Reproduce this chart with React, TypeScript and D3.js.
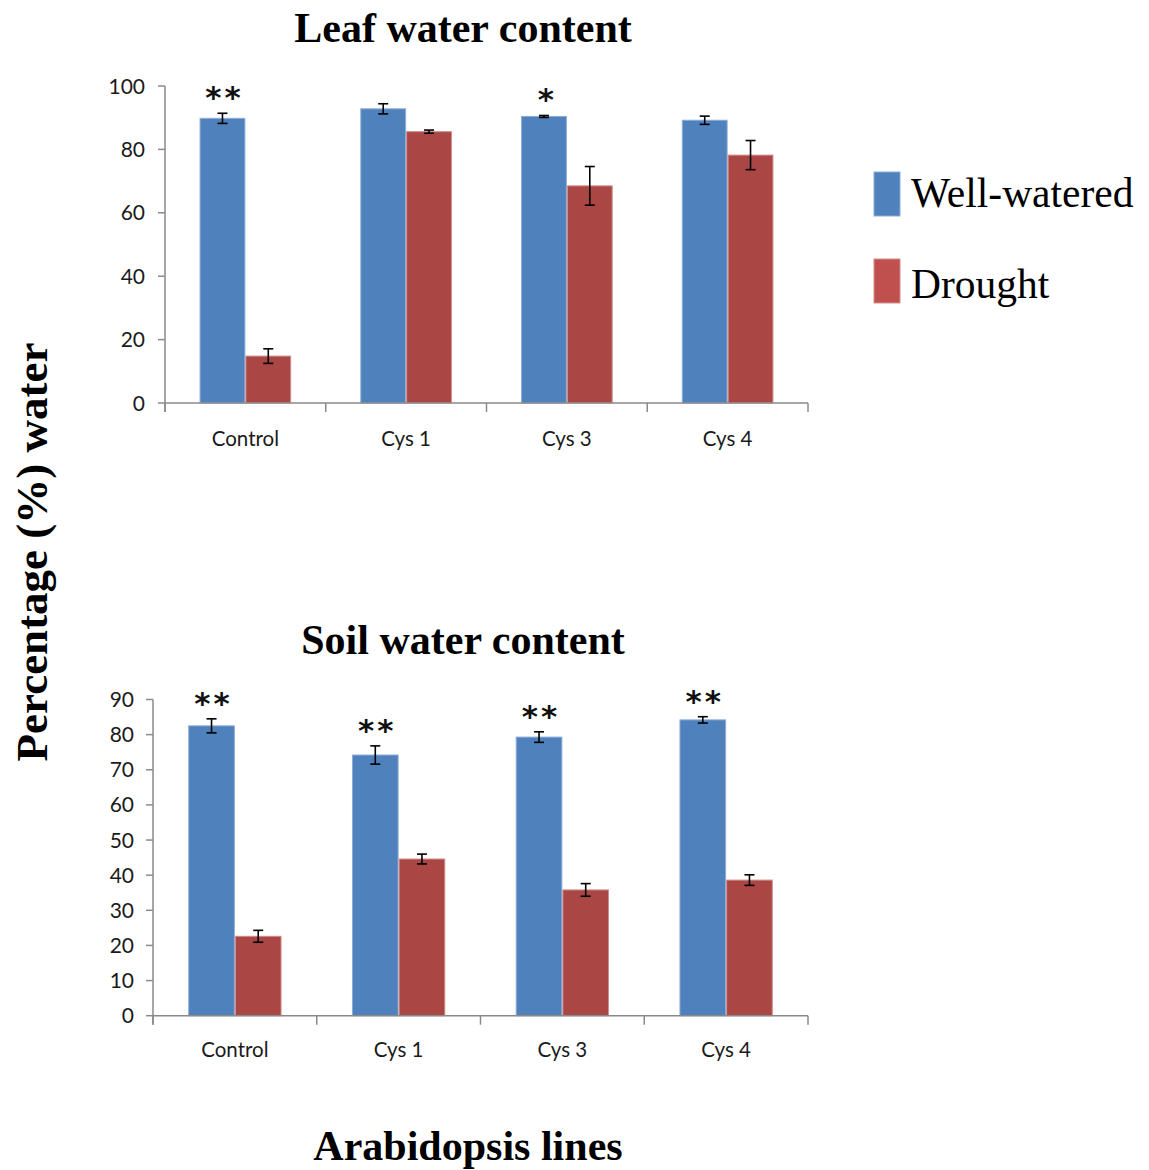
import React from "react";
import * as d3 from "d3";

const categories = ["Control", "Cys 1", "Cys 3", "Cys 4"];
const seriesNames = ["Well-watered", "Drought"];

const leafWell = [89.8, 92.8, 90.4, 89.2];
const leafWellErr = [1.6, 1.6, 0.3, 1.3];
const leafDrought = [14.8, 85.6, 68.5, 78.2];
const leafDroughtErr = [2.3, 0.5, 6.1, 4.6];
const leafStars = ["**", "", "*", ""];
const leafTicks = [0, 20, 40, 60, 80, 100];

const soilWell = [82.5, 74.2, 79.3, 84.2];
const soilWellErr = [2.0, 2.6, 1.5, 0.9];
const soilDrought = [22.6, 44.6, 35.8, 38.6];
const soilDroughtErr = [1.7, 1.4, 1.8, 1.5];
const soilStars = ["**", "**", "**", "**"];
const soilTicks = [0, 10, 20, 30, 40, 50, 60, 70, 80, 90];

const BLUE = "#4F81BD";
const BLUE_EDGE = "#8cacd6";
const RED = "#AA4644";
const RED_EDGE = "#d18e8c";
const LEG_RED = "#C0504D";
const AXIS = "#8a8a8a";
const SANS = "Lato, 'Open Sans', sans-serif";
const SERIF = "'Liberation Serif', 'Times New Roman', serif";

type PanelProps = {
  x0: number; x1: number; yTop: number; yBot: number; max: number;
  ticks: number[]; well: number[]; wellErr: number[]; dr: number[]; drErr: number[];
  stars: string[]; labelGap: number; catBaseline: number;
};

function Panel(p: PanelProps) {
  const x = d3.scaleBand<string>().domain(categories).range([p.x0, p.x1]).padding(0);
  const y = d3.scaleLinear().domain([0, p.max]).range([p.yBot, p.yTop]);
  const bw = x.bandwidth() * 0.285;
  const bars: React.ReactNode[] = [];
  categories.forEach((c, i) => {
    const cx = (x(c) as number) + x.bandwidth() / 2;
    const groups = [
      { v: p.well[i], e: p.wellErr[i], fill: BLUE, edge: BLUE_EDGE, left: cx - bw },
      { v: p.dr[i], e: p.drErr[i], fill: RED, edge: RED_EDGE, left: cx },
    ];
    groups.forEach((g, j) => {
      bars.push(
        <rect key={`b${i}${j}`} x={g.left + 0.5} y={y(g.v)} width={bw - 1} height={p.yBot - y(g.v)}
          fill={g.fill} stroke={g.edge} strokeWidth={1} />
      );
    });
    groups.forEach((g, j) => {
      const ex = g.left + bw / 2;
      const t = y(g.v + g.e), b = y(g.v - g.e);
      bars.push(
        <g key={`e${i}${j}`} stroke="#000" strokeWidth={1.6}>
          <line x1={ex} x2={ex} y1={t} y2={b} />
          <line x1={ex - 5} x2={ex + 5} y1={t} y2={t} />
          <line x1={ex - 5} x2={ex + 5} y1={b} y2={b} />
        </g>
      );
    });
    if (p.stars[i]) {
      const top = y(p.well[i] + p.wellErr[i]);
      bars.push(
        <text key={`s${i}`} x={cx - bw / 2 + 2} y={top - 5} textAnchor="middle"
          fontFamily="'DejaVu Sans', sans-serif" fontWeight="bold" fontSize={31}
          letterSpacing={p.stars[i].length > 1 ? 3 : 0}
          fill="#111">{p.stars[i]}</text>
      );
    }
  });
  const bounds = [...categories.map((c) => x(c) as number), p.x1];
  return (
    <g>
      {bars}
      <line x1={p.x0} x2={p.x0} y1={p.yTop} y2={p.yBot + 9} stroke={AXIS} strokeWidth={1.5} />
      <line x1={p.x0} x2={p.x1} y1={p.yBot} y2={p.yBot} stroke={AXIS} strokeWidth={1.5} />
      {p.ticks.map((t) => (
        <g key={t}>
          <line x1={p.x0 - 7} x2={p.x0} y1={y(t)} y2={y(t)} stroke={AXIS} strokeWidth={1.5} />
          <text x={p.x0 - p.labelGap} y={y(t)} dy="0.36em" textAnchor="end" fontFamily={SANS}
            fontSize={21} fill="#1a1a1a">{t}</text>
        </g>
      ))}
      {bounds.map((bx, i) => (
        <line key={i} x1={bx} x2={bx} y1={p.yBot} y2={p.yBot + 9} stroke={AXIS} strokeWidth={1.5} />
      ))}
      {categories.map((c) => (
        <text key={c} x={(x(c) as number) + x.bandwidth() / 2} y={p.catBaseline} textAnchor="middle"
          fontFamily={SANS} fontSize={20.5} fill="#1a1a1a">{c}</text>
      ))}
    </g>
  );
}

export default function App() {
  return (
    <svg width={1149} height={1170} style={{ position: "absolute", left: 0, top: 0, background: "#fff" }}>
      <rect width={1149} height={1170} fill="#fff" />
      <text x={463} y={42} textAnchor="middle" fontFamily={SERIF} fontWeight="bold" fontSize={42}>Leaf water content</text>
      <text x={463} y={654} textAnchor="middle" fontFamily={SERIF} fontWeight="bold" fontSize={42}>Soil water content</text>
      <text x={468} y={1160} textAnchor="middle" fontFamily={SERIF} fontWeight="bold" fontSize={42}>Arabidopsis lines</text>
      <text transform="translate(47,552) rotate(-90)" textAnchor="middle" fontFamily={SERIF} fontWeight="bold"
        fontSize={45}>Percentage (%) water</text>
      <Panel x0={165} x1={808} yTop={86} yBot={403} max={100} ticks={leafTicks}
        well={leafWell} wellErr={leafWellErr} dr={leafDrought} drErr={leafDroughtErr}
        stars={leafStars} labelGap={20} catBaseline={446} />
      <Panel x0={153} x1={808} yTop={699.5} yBot={1015.7} max={90} ticks={soilTicks}
        well={soilWell} wellErr={soilWellErr} dr={soilDrought} drErr={soilDroughtErr}
        stars={soilStars} labelGap={19} catBaseline={1057} />
      <rect x={874} y={172} width={26} height={44} fill={BLUE} stroke={BLUE_EDGE} strokeWidth={1} />
      <text x={911} y={207} fontFamily={SERIF} fontSize={41.5} fill="#000">{seriesNames[0]}</text>
      <rect x={874} y={259} width={26} height={44} fill={LEG_RED} stroke={RED_EDGE} strokeWidth={1} />
      <text x={911} y={298} fontFamily={SERIF} fontSize={41.5} fill="#000">{seriesNames[1]}</text>
    </svg>
  );
}
